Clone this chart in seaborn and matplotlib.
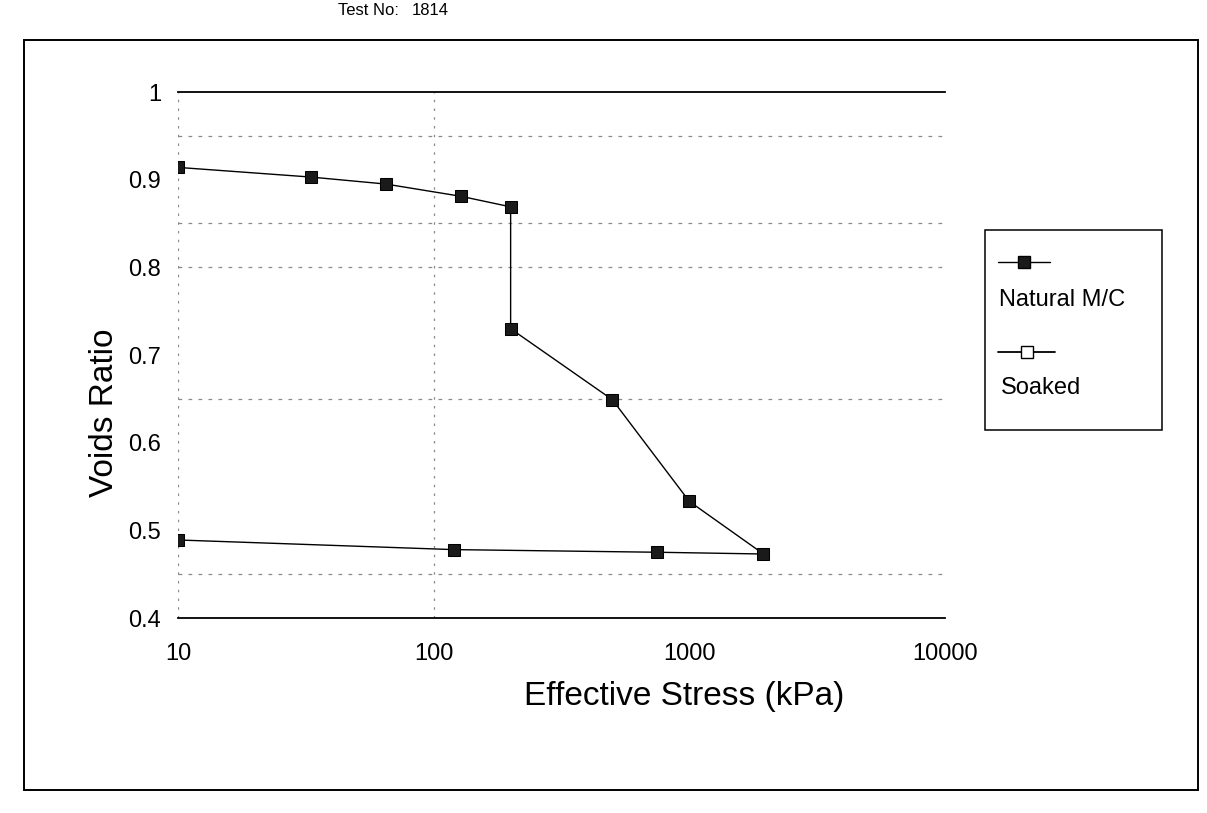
import seaborn as sns
import matplotlib.pyplot as plt
import pandas as pd
from matplotlib.lines import Line2D
from matplotlib.patches import Rectangle

# ----------------------------
# Data
# ----------------------------
stress = [10, 33, 65, 128, 200, 200, 500, 1000, 1950, 750, 120, 10]
voids = [0.914, 0.903, 0.895, 0.881, 0.869, 0.730, 0.649, 0.533, 0.473, 0.475, 0.478, 0.489]

x_ticks = [10, 100, 1000, 10000]
x_tick_labels = ["10", "100", "1000", "10000"]
y_ticks = [0.4, 0.5, 0.6, 0.7, 0.8, 0.9, 1.0]
y_tick_labels = ["0.4", "0.5", "0.6", "0.7", "0.8", "0.9", "1"]

# faint dotted gridlines still visible on the scan
h_grid = [0.45, 0.65, 0.8, 0.85, 0.95]
v_grid = [10, 100]

series_names = ["Natural M/C", "Soaked"]

df = pd.DataFrame({"Stress": stress, "Voids": voids, "Step": range(len(stress))})

# ----------------------------
# Figure
# ----------------------------
sns.set_style("white")
plt.rcParams["font.family"] = ["Liberation Sans", "DejaVu Sans"]
plt.rcParams["text.color"] = "black"
plt.rcParams["axes.labelcolor"] = "black"

fig = plt.figure(figsize=(12.07, 8.13), dpi=100)
W, H = 1207, 813
ax = fig.add_axes([178 / W, 1 - 618 / H, (945 - 178) / W, (618 - 92) / H])

for yv in h_grid:
    ax.axhline(yv, color="#8a8a8a", lw=0.9, ls=(0, (3, 5)), zorder=0)
for xv in v_grid:
    ax.axvline(xv, color="#8a8a8a", lw=0.9, ls=(0, (2, 5)), zorder=0)

sns.lineplot(
    data=df,
    x="Stress",
    y="Voids",
    sort=False,
    estimator=None,
    color="black",
    linewidth=1.0,
    marker="s",
    markersize=8,
    markerfacecolor="#1a1a1a",
    markeredgecolor="black",
    ax=ax,
)

ax.set_xscale("log")
ax.set_xlim(10, 10000)
ax.set_ylim(0.4, 1.0)
ax.set_xticks(x_ticks)
ax.set_xticklabels(x_tick_labels)
ax.set_yticks(y_ticks)
ax.set_yticklabels(y_tick_labels)
ax.minorticks_off()
ax.tick_params(axis="both", length=0, labelsize=17, colors="black")
ax.tick_params(axis="x", pad=18)
ax.tick_params(axis="y", pad=12)

for side in ["left", "right"]:
    ax.spines[side].set_visible(False)
for side in ["top", "bottom"]:
    ax.spines[side].set_color("black")
    ax.spines[side].set_linewidth(1.3)

ax.set_xlabel("Effective Stress (kPa)", fontsize=24)
ax.set_ylabel("Voids Ratio", fontsize=24)
ax.xaxis.set_label_coords(0.66, -0.15)
ax.yaxis.set_label_coords(-0.096, 0.39)
ax.xaxis.label.set_va("center")
ax.yaxis.label.set_va("center")

# ----------------------------
# Legend (handle above its text, as on the original)
# ----------------------------
fig.add_artist(Rectangle((985 / W, 1 - 430 / H), 177 / W, 200 / H,
                         transform=fig.transFigure, fill=False,
                         edgecolor="black", lw=1.1))
fig.add_artist(Line2D([998 / W, 1050 / W], [1 - 262 / H, 1 - 262 / H],
                      transform=fig.transFigure, color="black", lw=1.0))
fig.add_artist(Line2D([1024 / W], [1 - 262 / H], transform=fig.transFigure,
                      marker="s", markersize=8, markerfacecolor="#1a1a1a",
                      markeredgecolor="black", ls="none"))
fig.text(999 / W, 1 - 300 / H, series_names[0], fontsize=17, va="center", ha="left")
fig.add_artist(Line2D([998 / W, 1055 / W], [1 - 352 / H, 1 - 352 / H],
                      transform=fig.transFigure, color="black", lw=1.3))
fig.add_artist(Line2D([1027 / W], [1 - 352 / H], transform=fig.transFigure,
                      marker="s", markersize=8, markerfacecolor="white",
                      markeredgecolor="black", ls="none"))
fig.text(1001 / W, 1 - 388 / H, series_names[1], fontsize=17, va="center", ha="left")

# ----------------------------
# Outer chart frame and header
# ----------------------------
fig.add_artist(Rectangle((24 / W, 1 - 790 / H), (1198 - 24) / W, (790 - 40) / H,
                         transform=fig.transFigure, fill=False,
                         edgecolor="black", lw=1.4))
fig.text(338 / W, 1 - 3 / H, "Test No:", fontsize=12, va="top", ha="left")
fig.text(412 / W, 1 - 3 / H, "1814", fontsize=12, va="top", ha="left")

fig.savefig("out.png", dpi=100, facecolor="white")
plt.close(fig)
